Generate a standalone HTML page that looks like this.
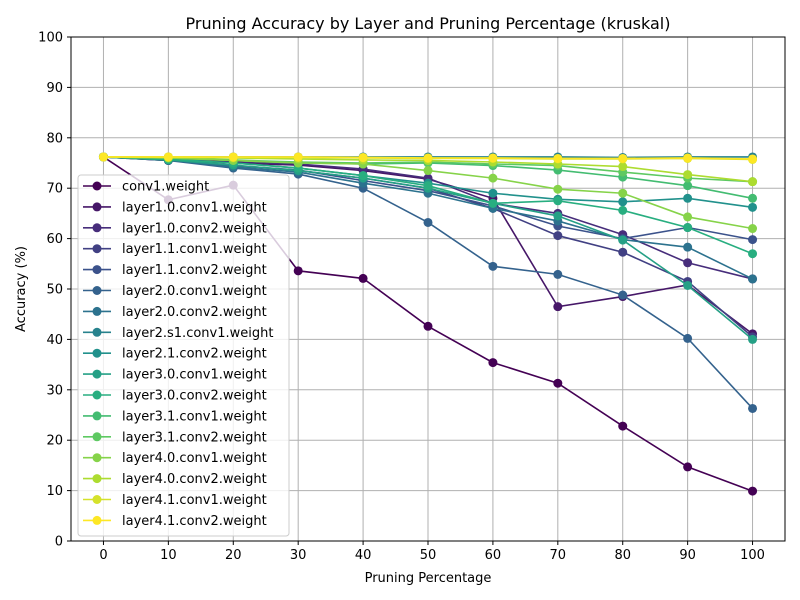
<!DOCTYPE html>
<html><head><meta charset="utf-8"><style>
body{margin:0;background:#fff}
svg{display:block;font-family:"DejaVu Sans","Liberation Sans",sans-serif}
</style></head><body>
<svg id="chart" width="800" height="600">
<rect width="800" height="600" fill="#fff"/>
<text x="428" y="29" font-size="16" text-anchor="middle">Pruning Accuracy by Layer and Pruning Percentage (kruskal)</text>
<g id="grid"></g><g id="series"></g>
<rect x="71" y="37" width="714" height="504" fill="none" stroke="#000" stroke-width="1"/>
<g id="ticks"></g>
<text x="428" y="582" font-size="13" text-anchor="middle">Pruning Percentage</text>
<text transform="translate(25,289) rotate(-90)" font-size="13" text-anchor="middle">Accuracy (%)</text>
<g id="legend"></g>
</svg>
<script>
const xCategories=[0,10,20,30,40,50,60,70,80,90,100];
const yTicks=[0,10,20,30,40,50,60,70,80,90,100];
const seriesNames=["conv1.weight","layer1.0.conv1.weight","layer1.0.conv2.weight","layer1.1.conv1.weight","layer1.1.conv2.weight","layer2.0.conv1.weight","layer2.0.conv2.weight","layer2.s1.conv1.weight","layer2.1.conv2.weight","layer3.0.conv1.weight","layer3.0.conv2.weight","layer3.1.conv1.weight","layer3.1.conv2.weight","layer4.0.conv1.weight","layer4.0.conv2.weight","layer4.1.conv1.weight","layer4.1.conv2.weight"];
const s0=[76.2,67.7,70.6,53.6,52.1,42.6,35.4,31.3,22.8,14.7,9.9];
const s1=[76.2,75.5,75.0,74.6,73.5,71.8,68.0,46.5,48.5,50.8,41.1];
const s2=[76.2,75.8,75.2,74.8,73.8,72.0,67.0,65.0,60.8,55.2,52.0];
const s3=[76.2,75.5,74.5,73.5,72.0,70.0,66.0,60.6,57.3,51.5,40.5];
const s4=[76.2,75.6,74.5,73.6,71.5,69.5,66.5,62.5,60.0,62.2,59.8];
const s5=[76.2,75.5,74.0,72.8,70.0,63.2,54.5,52.9,48.8,40.2,26.3];
const s6=[76.2,75.6,74.2,73.2,71.0,69.0,66.0,63.5,59.8,58.3,52.0];
const s7=[76.2,76.2,76.2,76.2,76.2,76.2,76.2,76.2,76.1,76.2,76.2];
const s8=[76.2,75.8,75.0,74.0,72.5,71.0,69.0,67.8,67.3,68.0,66.2];
const s9=[76.2,75.6,74.6,73.5,72.0,70.0,67.0,64.5,59.7,50.7,40.0];
const s10=[76.2,75.7,75.0,74.0,72.5,70.5,67.0,67.5,65.6,62.2,57.0];
const s11=[76.2,76.0,75.5,75.0,74.8,75.0,74.5,73.6,72.2,70.5,68.0];
const s12=[76.2,76.0,75.6,75.2,75.0,75.2,74.8,74.5,73.2,72.0,71.3];
const s13=[76.2,76.0,75.5,75.0,74.8,73.5,72.0,69.8,69.0,64.3,62.0];
const s14=[76.2,76.1,76.0,75.8,75.6,75.5,75.2,74.8,74.3,72.7,71.3];
const s15=[76.2,76.2,76.1,76.1,76.0,75.9,75.9,75.8,75.8,75.9,75.7];
const s16=[76.2,76.2,76.2,76.2,76.1,76.0,76.0,75.9,75.9,76.0,75.8];
const seriesValues=[s0,s1,s2,s3,s4,s5,s6,s7,s8,s9,s10,s11,s12,s13,s14,s15,s16];

const NS="http://www.w3.org/2000/svg";
const X=v=>71+(v+5)/110*714;
const Y=v=>541-v/100*504;
const anchors=[[68,1,84],[71,45,123],[59,82,139],[44,114,142],[33,145,140],[40,174,128],[94,201,98],[173,220,48],[253,231,37]];
function viridis(t){const p=t*8,i=Math.min(7,Math.floor(p)),f=p-i,a=anchors[i],b=anchors[i+1];
return `rgb(${a.map((c,k)=>Math.round(c+(b[k]-c)*f)).join(',')})`;}
function mk(tag,attrs,parent){const e=document.createElementNS(NS,tag);for(const k in attrs)e.setAttribute(k,attrs[k]);parent.appendChild(e);return e;}
const grid=document.getElementById('grid'),ticks=document.getElementById('ticks');
xCategories.forEach(v=>{
 const l=mk('line',{x1:X(v),x2:X(v),y1:37,y2:541,stroke:'#b0b0b0','stroke-width':1},grid);
 
 
 mk('line',{x1:X(v),x2:X(v),y1:541,y2:545,stroke:'#000'},ticks);
 const t=mk('text',{x:X(v),y:559,'font-size':13,'text-anchor':'middle'},ticks);t.textContent=v;
 
 
});
yTicks.forEach(v=>{
 const l=mk('line',{x1:71,x2:785,y1:Y(v),y2:Y(v),stroke:'#b0b0b0','stroke-width':1},grid);
 
 
 mk('line',{x1:67,x2:71,y1:Y(v),y2:Y(v),stroke:'#000'},ticks);
 const t=mk('text',{x:63,y:Y(v)+4.5,'font-size':13,'text-anchor':'end'},ticks);t.textContent=v;
 
 
});
const sg=document.getElementById('series');
seriesValues.forEach((vals,i)=>{
 const c=viridis(i/16);
 const g=mk('g',{},sg);
 
 
 mk('polyline',{points:vals.map((v,j)=>X(xCategories[j])+','+Y(v)).join(' '),fill:'none',stroke:c,'stroke-width':1.6},g);
 vals.forEach((v,j)=>{const m=mk('circle',{cx:X(xCategories[j]),cy:Y(v),r:4.5,fill:c},g);
  
  });
});
const lg=document.getElementById('legend');
mk('rect',{x:78,y:175,width:211,height:361,rx:3,fill:'rgba(255,255,255,0.8)',stroke:'#ccc'},lg);
seriesNames.forEach((n,i)=>{
 const y=186+i*20.9,c=viridis(i/16);
 const g=mk('g',{},lg);
 
 
 mk('line',{x1:83,x2:111,y1:y,y2:y,stroke:c,'stroke-width':1.6},g);
 mk('circle',{cx:97,cy:y,r:4.5,fill:c},g);
 const t=mk('text',{x:122,y:y+4.5,'font-size':13},g);t.textContent=n;
});
</script>
</body></html>
